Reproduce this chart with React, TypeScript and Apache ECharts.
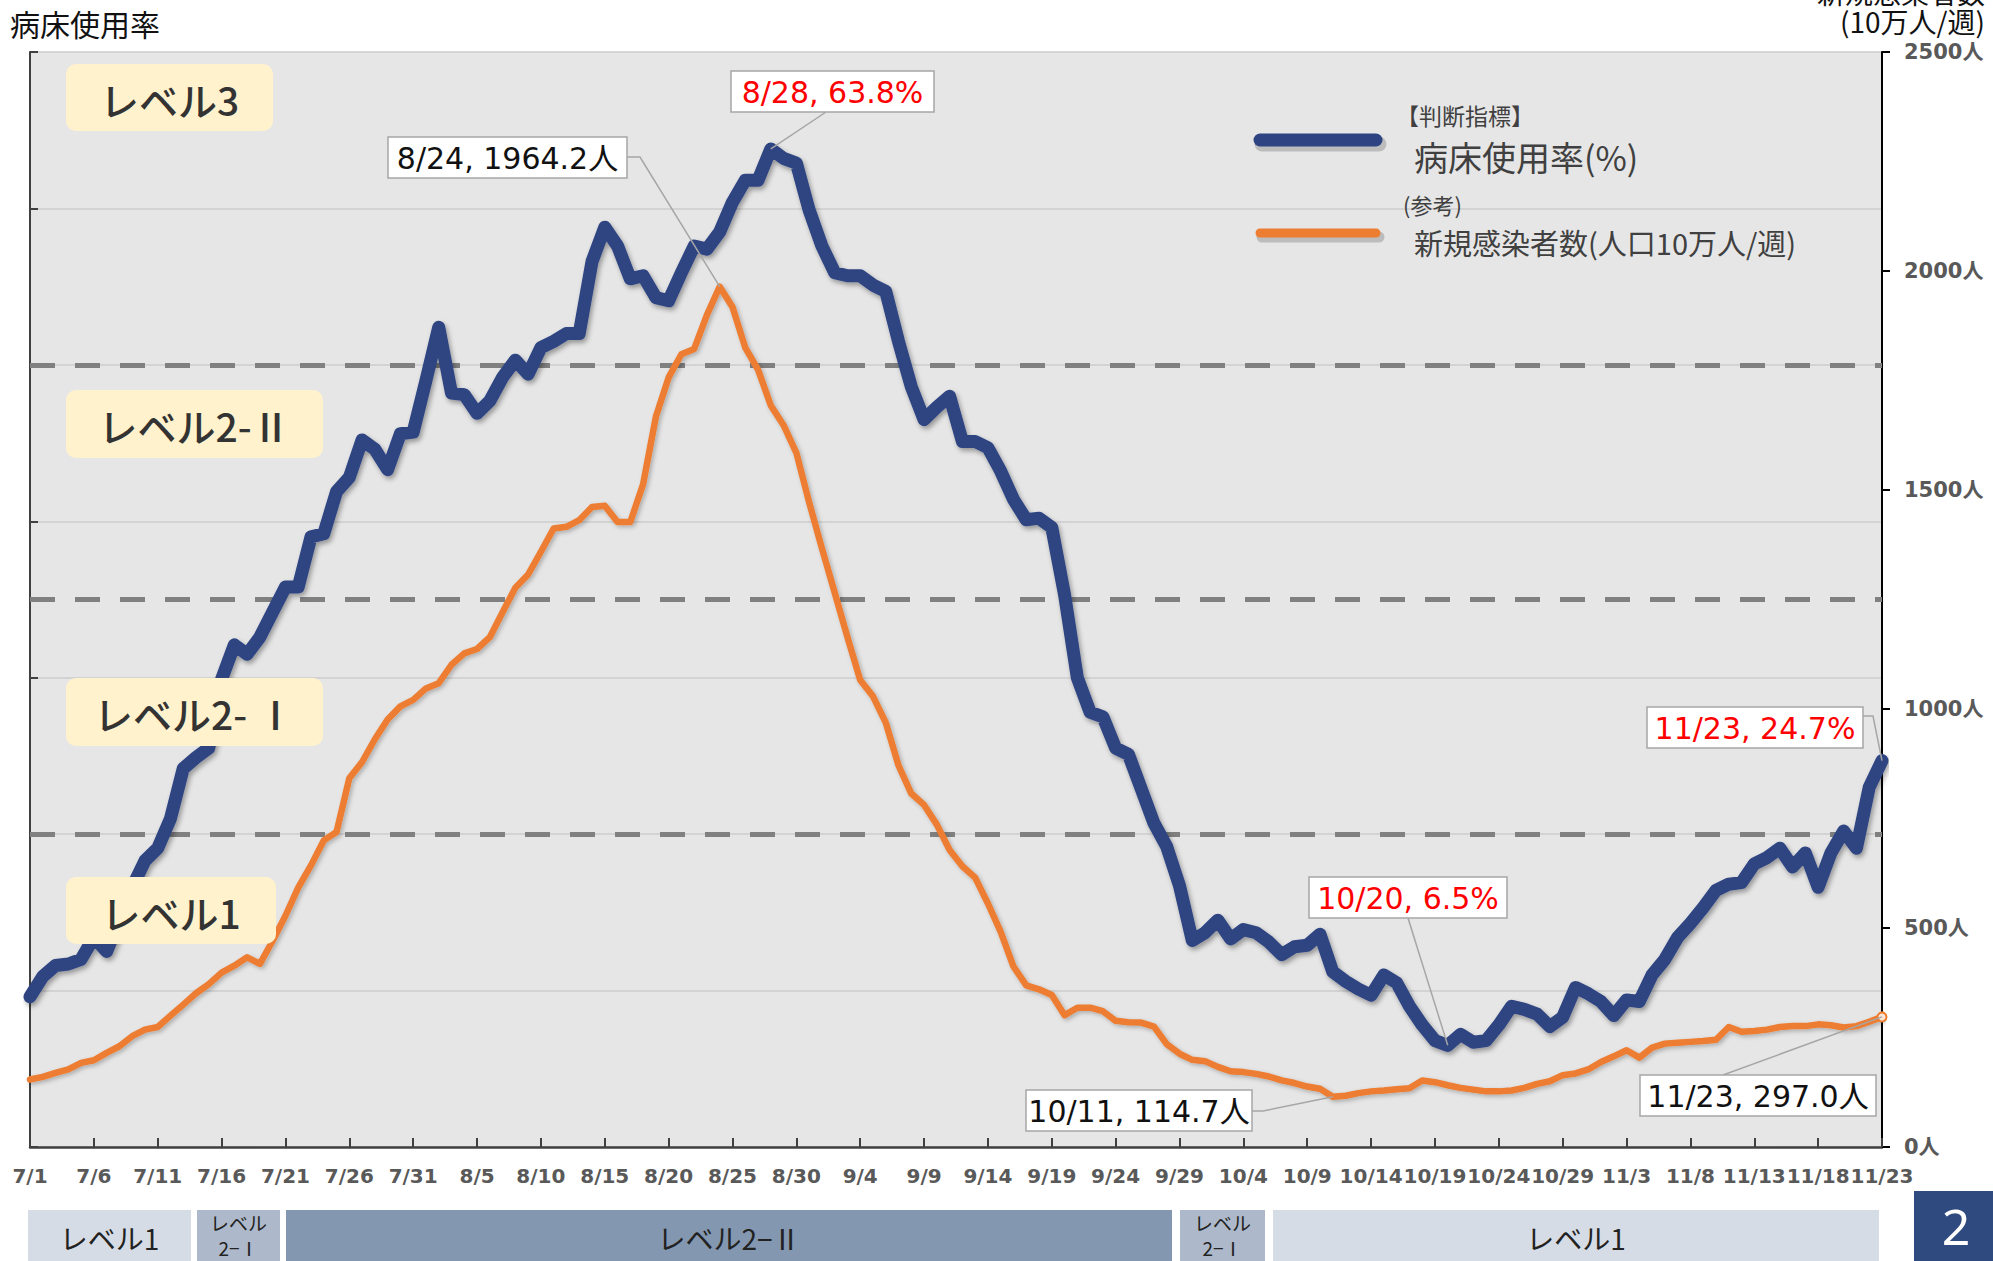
import React, { useEffect, useRef } from 'react';
import * as echarts from 'echarts';

// ---------- data ----------
const MONTHS = [7, 8, 9, 10, 11];
const MONTH_DAYS = [31, 31, 30, 31, 23];
const DATES: string[] = MONTHS.flatMap((m, i) =>
  Array.from({ length: MONTH_DAYS[i] }, (_, d) => `${m}/${d + 1}`)
);

// 病床使用率 (%)
const BED_RATE = [
  9.6, 10.9, 11.6, 11.7, 12.0, 13.4, 12.5, 14.5, 16.6, 18.3,
  19.1, 21.0, 24.2, 24.9, 25.5, 29.9, 32.1, 31.5, 32.6, 34.2,
  35.8, 35.8, 39.0, 39.2, 41.9, 42.8, 45.2, 44.6, 43.3, 45.6,
  45.7, 49.0, 52.4, 48.2, 48.1, 46.9, 47.7, 49.2, 50.3, 49.4,
  51.1, 51.5, 52.0, 52.0, 56.6, 58.8, 57.6, 55.5, 55.7, 54.3,
  54.1, 55.9, 57.6, 57.4, 58.5, 60.4, 61.8, 61.8, 63.8, 63.2,
  62.9, 59.9, 57.6, 55.9, 55.7, 55.7, 55.1, 54.7, 51.5, 48.6,
  46.5, 47.3, 48.0, 45.1, 45.1, 44.7, 43.2, 41.4, 40.1, 40.2,
  39.6, 35.3, 30.0, 27.8, 27.5, 25.5, 25.1, 22.9, 20.7, 19.2,
  16.7, 13.2, 13.7, 14.5, 13.3, 13.9, 13.7, 13.1, 12.3, 12.8,
  12.9, 13.6, 11.2, 10.6, 10.1, 9.7, 11.0, 10.5, 9.0, 7.8,
  6.8, 6.5, 7.2, 6.7, 6.8, 7.8, 9.0, 8.8, 8.5, 7.7,
  8.3, 10.2, 9.8, 9.3, 8.4, 9.4, 9.3, 11.0, 12.0, 13.4,
  14.3, 15.3, 16.4, 16.8, 16.9, 18.1, 18.5, 19.1, 17.9, 18.8,
  16.6, 18.8, 20.2, 19.1, 23.0, 24.7,
];

// 新規感染者数 (人口10万人/週)
const NEW_CASES = [
  154, 160, 169, 177, 192, 198, 215, 230, 253, 268,
  274, 300, 325, 351, 372, 398, 414, 433, 418, 471,
  528, 592, 643, 700, 719, 842, 879, 931, 976, 1006,
  1021, 1047, 1059, 1101, 1127, 1137, 1164, 1221, 1277, 1307,
  1359, 1412, 1416, 1431, 1461, 1464, 1427, 1427, 1513, 1667,
  1757, 1810, 1822, 1900, 1964.2, 1918, 1825, 1775, 1693, 1648,
  1585, 1472, 1367, 1266, 1164, 1066, 1029, 969, 871, 807,
  781, 736, 678, 641, 615, 556, 491, 412, 369, 360,
  347, 301, 318, 318, 310, 288, 285, 284, 275, 235,
  213, 199, 196, 183, 173, 171, 167, 161, 152, 146,
  138, 133, 114.7, 117, 123, 127, 129, 132, 134, 152,
  148, 141, 135, 131, 127, 127, 129, 135, 144, 150,
  164, 168, 177, 194, 207, 221, 204, 227, 236, 238,
  240, 242, 245, 274, 263, 265, 268, 274, 276, 276,
  280, 278, 273, 276, 286, 297.0,
];

const LEVEL_LINES = [20, 35, 50];
const LEFT_MAX = 70;
const LEFT_STEP = 10;
const RIGHT_MAX = 2500;
const RIGHT_STEP = 500;

const LEVEL_NAMES = ['レベル3', 'レベル2-Ⅱ', 'レベル2- Ⅰ', 'レベル1'];
const BAND_NAMES = ['レベル1', 'レベル\n2−Ⅰ', 'レベル2−Ⅱ', 'レベル\n2−Ⅰ', 'レベル1'];

// annotations: series 0 = 病床使用率, 1 = 新規感染者数
const ANNOT_SERIES = [0, 1, 0, 1, 0, 1];
const ANNOT_DATES = ['8/28', '8/24', '10/20', '10/11', '11/23', '11/23'];

// ---------- layout (pixels) ----------
const W = 1993;
const H = 1261;
const JP = '"Noto Sans CJK JP", "Noto Sans", sans-serif';
const NUM = '"DejaVu Sans", "Noto Sans CJK JP", sans-serif';

const LEVEL_BOXES = [
  { x: 66, y: 64, w: 207, h: 67 },
  { x: 66, y: 390, w: 257, h: 68 },
  { x: 66, y: 678, w: 257, h: 68 },
  { x: 66, y: 877, w: 210, h: 67 },
];
const BAND_BOXES = [
  { x: 28, w: 163, fill: '#D6DCE5' },
  { x: 197, w: 83, fill: '#ADB9CA' },
  { x: 286, w: 886, fill: '#8497B0' },
  { x: 1180, w: 85, fill: '#ADB9CA' },
  { x: 1273, w: 606, fill: '#D6DCE5' },
];
// box position + leader attach path (before anchor)
const ANNOT_LAYOUT = [
  { x: 731, y: 71, w: 203, h: 41, via: [[826, 112]] },
  { x: 388, y: 137, w: 239, h: 41, via: [[627, 157], [640, 157]] },
  { x: 1309, y: 877, w: 198, h: 41, via: [[1408, 918]] },
  { x: 1026, y: 1090, w: 226, h: 41, via: [[1252, 1111], [1263, 1111]] },
  { x: 1647, y: 707, w: 216, h: 41, via: [[1863, 716], [1873, 716]] },
  { x: 1640, y: 1075, w: 236, h: 41, via: [[1723, 1075]] },
];

const BLUE = '#2E4482';
const ORANGE = '#ED7D31';

export default function App() {
  const ref = useRef<HTMLDivElement>(null);

  useEffect(() => {
    const chart = echarts.init(ref.current!, null, { renderer: 'svg', width: W, height: H });
    const last = DATES.length - 1;

    chart.setOption({
      animation: false,
      backgroundColor: '#ffffff',
      textStyle: { fontFamily: NUM },
      grid: {
        left: 30, right: 111, top: 52, bottom: 114,
        containLabel: false,
        outerBoundsMode: 'none',
        show: true, backgroundColor: '#E6E6E6', borderWidth: 0,
      },
      xAxis: {
        type: 'category',
        data: DATES,
        boundaryGap: false,
        axisLine: { lineStyle: { color: '#404040', width: 2.5 } },
        axisTick: { inside: true, length: 9, interval: 4, lineStyle: { color: '#404040', width: 2 } },
        axisLabel: {
          interval: 4, color: '#595959', fontSize: 20, fontWeight: 'bold',
          fontFamily: NUM, margin: 19,
          showMaxLabel: true, showMinLabel: true, hideOverlap: false,
        },
        splitLine: { show: false },
      },
      yAxis: [
        {
          type: 'value', min: 0, max: LEFT_MAX, interval: LEFT_STEP, position: 'left',
          axisLine: { show: true, lineStyle: { color: '#404040', width: 2 } },
          axisTick: { show: true, inside: true, length: 8, lineStyle: { color: '#404040', width: 2 } },
          axisLabel: { show: false },
          splitLine: { show: true, lineStyle: { color: '#CDCDCD', width: 1.5 } },
        },
        {
          type: 'value', min: 0, max: RIGHT_MAX, interval: RIGHT_STEP, position: 'right',
          axisLine: { show: true, lineStyle: { color: '#000000', width: 2 } },
          axisTick: { show: true, length: 8, lineStyle: { color: '#000000', width: 2 } },
          axisLabel: {
            formatter: (v: number) => `${v}人`, color: '#595959', fontSize: 21, fontWeight: 'bold',
            fontFamily: NUM, margin: 22,
          },
          splitLine: { show: false },
        },
      ],
      series: [
        {
          name: '病床使用率',
          type: 'line',
          yAxisIndex: 0,
          data: BED_RATE,
          symbol: 'none',
          showSymbol: false,
          z: 4,
          lineStyle: {
            color: BLUE, width: 13, join: 'round', cap: 'round',
            shadowColor: 'rgba(0,0,0,0.35)', shadowBlur: 5, shadowOffsetX: 2, shadowOffsetY: 3,
          },
          emphasis: { disabled: true },
          markLine: {
            silent: true,
            symbol: 'none',
            z: 1,
            label: { show: false },
            lineStyle: { color: '#808080', width: 5, type: [25, 20] },
            emphasis: { disabled: true },
            data: LEVEL_LINES.map((v) => ({ yAxis: v })),
          },
        },
        {
          name: '新規感染者数',
          type: 'line',
          yAxisIndex: 1,
          data: NEW_CASES,
          symbol: 'none',
          showSymbol: false,
          z: 3,
          lineStyle: {
            color: ORANGE, width: 6.5, join: 'round', cap: 'round',
            shadowColor: 'rgba(0,0,0,0.25)', shadowBlur: 4, shadowOffsetX: 2, shadowOffsetY: 2,
          },
          emphasis: { disabled: true },
          markPoint: {
            silent: true,
            symbol: 'circle',
            symbolSize: 9,
            label: { show: false },
            itemStyle: { color: '#FBE5D6', borderColor: ORANGE, borderWidth: 2 },
            data: [{ coord: [last, NEW_CASES[last]] }],
          },
        },
      ],
    });

    const graphics: any[] = [];
    const Z = 100;

    // titles
    graphics.push({
      type: 'text', x: 10, y: 23, z: Z,
      style: { text: '病床使用率', font: `400 30px ${JP}`, fill: '#111', align: 'left', verticalAlign: 'middle' },
    });
    graphics.push({
      type: 'text', x: 1985, y: -8, z: Z,
      style: { text: '新規感染者数', font: `400 28px ${JP}`, fill: '#111', align: 'right', verticalAlign: 'middle' },
    });
    graphics.push({
      type: 'text', x: 1985, y: 21, z: Z,
      style: { text: '(10万人/週)', font: `400 28px ${JP}`, fill: '#111', align: 'right', verticalAlign: 'middle' },
    });

    // level boxes
    LEVEL_BOXES.forEach((b, i) => {
      graphics.push({
        type: 'rect', z: Z,
        shape: { x: b.x, y: b.y, width: b.w, height: b.h, r: 10 },
        style: { fill: '#FFF2CC' },
      });
      graphics.push({
        type: 'text', x: b.x + b.w / 2, y: b.y + b.h / 2 + 1, z: Z + 1,
        style: {
          text: LEVEL_NAMES[i], font: `500 39px ${JP}`, fill: '#333333',
          align: 'center', verticalAlign: 'middle',
        },
      });
    });

    // legend (shadow drawn as offset translucent line)
    const legendLines = [
      { y: 140, w: 13, c: BLUE },
      { y: 233, w: 9, c: ORANGE },
    ];
    legendLines.forEach((l) => {
      graphics.push({
        type: 'line', z: Z,
        shape: { x1: 1262, y1: l.y + 4, x2: 1379, y2: l.y + 4 },
        style: { stroke: 'rgba(0,0,0,0.18)', lineWidth: l.w + 2, lineCap: 'round' },
      });
      graphics.push({
        type: 'line', z: Z + 1,
        shape: { x1: 1260, y1: l.y, x2: 1376, y2: l.y },
        style: { stroke: l.c, lineWidth: l.w, lineCap: 'round' },
      });
    });
    const legendTexts = [
      { t: '【判断指標】', x: 1396, y: 115, s: 23 },
      { t: '病床使用率(%)', x: 1414, y: 156, s: 34 },
      { t: '(参考)', x: 1403, y: 204, s: 22 },
      { t: '新規感染者数(人口10万人/週)', x: 1414, y: 242, s: 29 },
    ];
    legendTexts.forEach((l) => {
      graphics.push({
        type: 'text', x: l.x, y: l.y, z: Z,
        style: { text: l.t, font: `400 ${l.s}px ${JP}`, fill: '#404040', align: 'left', verticalAlign: 'middle' },
      });
    });

    // annotations
    ANNOT_LAYOUT.forEach((a, i) => {
      const si = ANNOT_SERIES[i];
      const idx = DATES.indexOf(ANNOT_DATES[i]);
      const val = si === 0 ? BED_RATE[idx] : NEW_CASES[idx];
      const p = chart.convertToPixel({ seriesIndex: si }, [idx, val]) as number[];
      const text = si === 0 ? `${ANNOT_DATES[i]}, ${val.toFixed(1)}%` : `${ANNOT_DATES[i]}, ${val.toFixed(1)}人`;
      graphics.push({
        type: 'polyline', z: Z,
        shape: { points: [...a.via, [p[0], p[1]]] },
        style: { stroke: '#A6A6A6', lineWidth: 1.5, fill: null },
      });
      graphics.push({
        type: 'rect', z: Z + 1,
        shape: { x: a.x, y: a.y, width: a.w, height: a.h },
        style: { fill: '#FFFFFF', stroke: '#A6A6A6', lineWidth: 1.5 },
      });
      graphics.push({
        type: 'text', x: a.x + a.w / 2, y: a.y + a.h / 2 + 1, z: Z + 2,
        style: {
          text, font: `400 30px ${NUM}`, fill: si === 0 ? '#FF0000' : '#111111',
          align: 'center', verticalAlign: 'middle',
        },
      });
    });

    // bottom level band
    BAND_BOXES.forEach((b, i) => {
      graphics.push({
        type: 'rect', z: Z,
        shape: { x: b.x, y: 1210, width: b.w, height: 60 },
        style: { fill: b.fill },
      });
      const name = BAND_NAMES[i];
      if (name.includes('\n')) {
        const [l1, l2] = name.split('\n');
        graphics.push({
          type: 'text', x: b.x + b.w / 2, y: 1222, z: Z + 1,
          style: { text: l1, font: `400 19px ${JP}`, fill: '#222', align: 'center', verticalAlign: 'middle' },
        });
        graphics.push({
          type: 'text', x: b.x + b.w / 2, y: 1247, z: Z + 1,
          style: { text: l2, font: `400 19px ${JP}`, fill: '#222', align: 'center', verticalAlign: 'middle' },
        });
      } else {
        graphics.push({
          type: 'text', x: b.x + b.w / 2, y: 1238, z: Z + 1,
          style: { text: name, font: `400 28px ${JP}`, fill: '#222', align: 'center', verticalAlign: 'middle' },
        });
      }
    });

    // page number box
    graphics.push({
      type: 'rect', z: Z,
      shape: { x: 1914, y: 1191, width: 79, height: 70 },
      style: { fill: '#2F4A7E' },
    });
    graphics.push({
      type: 'text', x: 1956, y: 1226, z: Z + 1,
      style: { text: '2', font: `400 50px "Noto Sans", sans-serif`, fill: '#FFFFFF', align: 'center', verticalAlign: 'middle' },
    });

    chart.setOption({ graphic: graphics });

    return () => chart.dispose();
  }, []);

  return (
    <div
      ref={ref}
      style={{ position: 'absolute', left: 0, top: 0, width: W, height: H, overflow: 'hidden' }}
    />
  );
}
